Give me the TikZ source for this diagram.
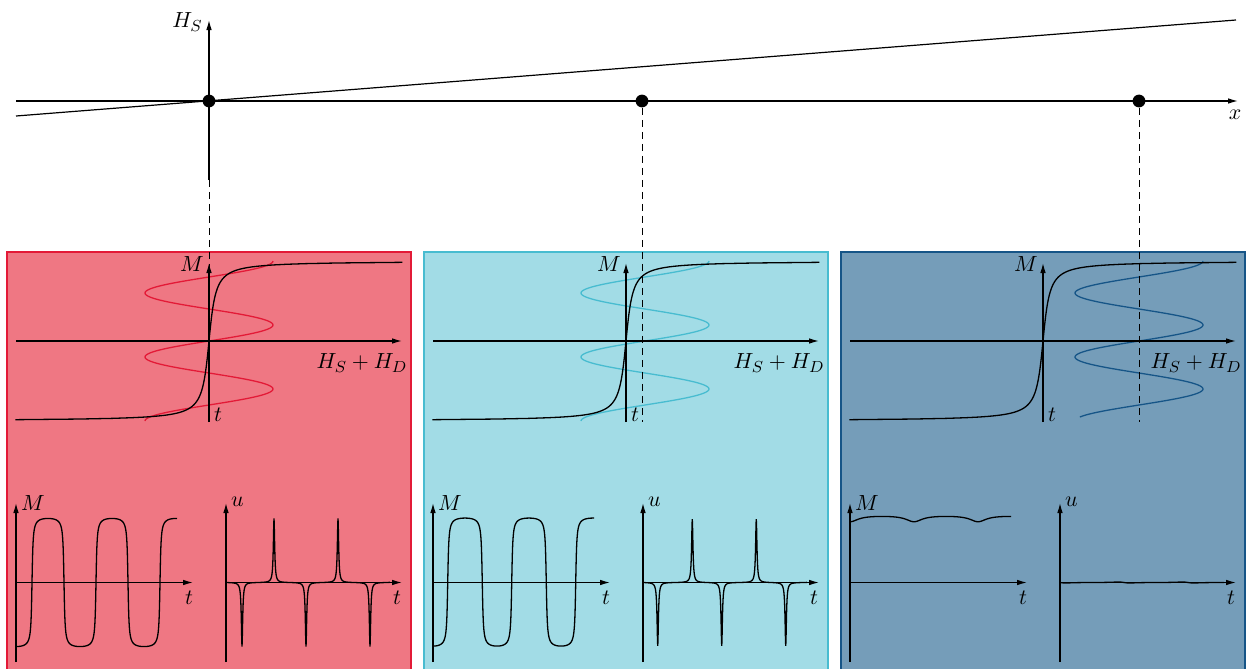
\documentclass[tikz,border=0pt]{standalone}
\usetikzlibrary{arrows.meta}
\definecolor{redfill}{RGB}{239,119,131}
\definecolor{redline}{RGB}{227,26,55}
\definecolor{cyanfill}{RGB}{162,220,230}
\definecolor{cyanline}{RGB}{72,188,208}
\definecolor{bluefill}{RGB}{117,157,185}
\definecolor{blueline}{RGB}{22,85,135}
\tikzset{
  axis/.style={line width=0.6pt,-{Latex[length=5pt,width=2.8pt]}},
  plainline/.style={line width=0.6pt},
  dashline/.style={line width=0.5pt,dash pattern=on 3.5pt off 2.5pt},
  curve/.style={line width=0.65pt},
  dot/.style={circle,fill=black,inner sep=0pt,minimum size=6.4pt},
  panelbox/.style={rectangle,line width=0.7pt,inner sep=0pt,minimum width=202pt,minimum height=209.5pt},
  lab/.style={inner sep=0pt,font=\fontsize{11}{13}\selectfont},
  declare function={hh(\s,\a)=(\a-64*cos(5.625*\s))/5;}
}
\newcommand\magpanel[7]{%
\begin{scope}[shift={(#1,0)}]
  \node[panelbox,fill=#3,draw=#4] (#2box) at (209,461.5) {};
  % hysteresis-like plot
  \coordinate (#2hl) at (16,341);
  \coordinate (#2hr) at (402,341);
  \coordinate (#2vb) at (209,422);
  \coordinate (#2vt) at (209,263);
  \draw[curve,#4] plot[domain=261:#7,samples=161,variable=\q] ({209+#5+64*cos(5.625*(\q-261))},{\q});
  \draw[curve] plot[domain=-88.52:88.52,samples=241,variable=\p] ({209+5*tan(\p)},{341-80*\p/90});
  \draw[axis] (#2hl) -- (#2hr);
  \draw[axis] (#2vb) -- (#2vt);
  \node[lab] (#2M) at (192,264) {$M$};
  \node[lab] (#2t) at (218,415) {$t$};
  \node[lab] (#2H) at (362,363) {$H_S+H_D$};
  % M(t)
  \coordinate (#2mb) at (16,662);
  \coordinate (#2mt) at (16,503);
  \coordinate (#2ml) at (16,582.5);
  \coordinate (#2mr) at (193,582.5);
  \draw[axis] (#2mb) -- (#2mt);
  \draw[axis] (#2ml) -- (#2mr);
  \draw[curve] plot[domain=0:161,samples=645,variable=\s] ({16+\s},{582.5-67.4*atan(hh(\s,#6))/90});
  \node[lab] (#2Ml) at (33,503) {$M$};
  \node[lab] (#2tl) at (189,598) {$t$};
  % u(t)
  \coordinate (#2ub) at (226,662);
  \coordinate (#2ut) at (226,503);
  \coordinate (#2ul) at (226,582.5);
  \coordinate (#2ur) at (402,582.5);
  \draw[axis] (#2ub) -- (#2ut);
  \draw[axis] (#2ul) -- (#2ur);
  \draw[curve] plot[domain=0:164,samples=657,variable=\s] ({226+\s},{582.5+64*sin(5.625*\s)/(1+hh(\s,#6)*hh(\s,#6))});
  \node[lab] (#2ulab) at (237.5,502) {$u$};
  \node[lab] (#2tr) at (397,598) {$t$};
\end{scope}}
\begin{document}
\begin{tikzpicture}[x=0.5pt,y=-0.5pt]
\useasboundingbox (0,0) rectangle (1248,669);
\begin{scope}
\clip (0,0) rectangle (1248,669);
\magpanel{0}{r}{redfill}{redline}{0}{0}{421}
\magpanel{417}{c}{cyanfill}{cyanline}{19}{8}{421}
\magpanel{834}{b}{bluefill}{blueline}{96}{96}{417}
\end{scope}
% top diagram
\coordinate (xl) at (16,101);
\coordinate (xr) at (1238,101);
\coordinate (yb) at (209,180);
\coordinate (yt) at (209,20);
\coordinate (sl) at (16,116);
\coordinate (sr) at (1236,20);
\draw[axis] (xl) -- (xr);
\draw[axis] (yb) -- (yt);
\draw[plainline] (sl) -- (sr);
\node[dot] (d1) at (209,101) {};
\node[dot] (d2) at (642,101) {};
\node[dot] (d3) at (1139,101) {};
\coordinate (e1) at (209,422);
\coordinate (e2) at (642,422);
\coordinate (e3) at (1139,422);
\draw[dashline] (d1) -- (e1);
\draw[dashline] (d2) -- (e2);
\draw[dashline] (d3) -- (e3);
\node[lab] (HS) at (187.5,22) {$H_S$};
\node[lab] (xlab) at (1235,115) {$x$};
\end{tikzpicture}
\end{document}
